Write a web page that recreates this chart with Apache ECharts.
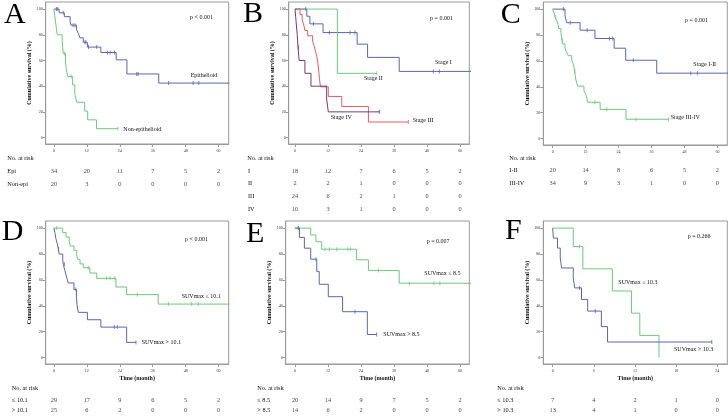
<!DOCTYPE html>
<html><head><meta charset="utf-8">
<script src="https://cdn.jsdelivr.net/npm/echarts@6/dist/echarts.min.js"></script>
<style>html,body{margin:0;padding:0;background:#fff}#c{width:728px;height:416px}</style>
</head><body><div id="c"></div>
<script>
// ---------- DATA ----------
const ticks60 = [0, 12, 24, 36, 48, 60];
const ticks24 = [0, 6, 12, 18, 24];
const yTicks = [0, 20, 40, 60, 80, 100];

// Panel A
const aEpiCurve = [[0,100],[1.9,97.1],[3.8,94.1],[5.9,90.6],[6.2,87.5],[8.2,84.3],[8.9,81],[9.5,77.6],[10.7,74.2],[12.2,70.4],[17.1,66.2],[22.7,60.5],[26.6,49.5],[38.2,42.4],[64,42.4]];
const aEpiCensor = [0.9, 1.4, 3.4, 7.0, 7.7, 11.3, 11.6, 12.6, 15.6, 19.5, 20.5, 22.1, 30.2, 30.7, 41.8, 50.7, 52.8];
const aNonCurve = [[0,100],[0.3,95],[0.6,90],[0.9,85],[1.2,80],[3.0,75],[3.2,70],[3.4,65.5],[4.2,59.5],[4.5,53.5],[5.0,47.5],[6.8,41],[7.6,34.3],[8.3,27.5],[11.2,20.6],[12.3,13.8],[15.5,6.9],[23.3,6.9]];
const aNonCensor = [3.8, 6.3, 23.3];
const aRiskRows = ['Epi', 'Non-epi'];
const aRiskEpi = [34, 20, 11, 7, 5, 2];
const aRiskNon = [20, 3, 0, 0, 0, 0];

// Panel B
const bStage1Curve = [[0,100],[4.3,94.4],[5.4,88.5],[10.2,81.7],[22.6,72.7],[26.4,62.4],[37.9,51.5],[64,51.5]];
const bStage1Censor = [3.9, 6.7, 12.5, 20.0, 21.8, 50.3, 52.5];
const bStage2Curve = [[0,100],[15.4,50],[29.7,50]];
const bStage2Censor = [29.7];
const bStage3Curve = [[0,100],[1.8,95.8],[2.6,91.7],[3.2,87.5],[3.6,83.3],[4.6,79.2],[6.4,75],[7.0,70.8],[7.5,66.7],[8.0,62.5],[8.3,58.3],[8.5,54.2],[8.7,50],[8.9,45.8],[9.1,41.7],[9.4,39.5],[12.1,32],[17.0,24.2],[26.7,12.1],[41.2,12.1]];
const bStage3Censor = [11.3, 41.2];
const bStage4Curve = [[0,100],[0.4,90],[0.8,80],[1.1,70],[1.5,60],[3.6,50],[5.8,40],[11.5,30],[12.1,20],[30.7,20]];
const bStage4Censor = [1.3, 30.7];
const bRiskRows = ['I', 'II', 'III', 'IV'];
const bRiskI = [18, 12, 7, 6, 5, 2];
const bRiskII = [2, 2, 1, 0, 0, 0];
const bRiskIII = [24, 6, 2, 1, 0, 0];
const bRiskIV = [10, 3, 1, 0, 0, 0];

// Panel C
const cEarlyCurve = [[0,100],[4.5,94.7],[5.1,89.5],[10.0,83.7],[15.4,77.3],[22.4,69.8],[26.6,60.5],[37.9,50.5],[64,50.5]];
const cEarlyCensor = [3.9, 6.4, 12.6, 20.7, 21.9, 29.4, 50.3, 52.7];
const cLateCurve = [[0,100],[0.5,97],[0.9,94],[1.5,91],[2.0,88],[2.2,85],[3.0,82],[3.2,79],[3.4,76],[3.6,73],[4.5,70],[5.0,67],[5.7,64],[6.9,61],[7.4,58],[7.8,55],[8.0,52],[8.2,49],[8.4,46],[8.8,43],[9.1,40.5],[11.4,37],[12.1,34],[12.5,31],[12.7,28],[17.3,22.5],[26.7,14.9],[42.2,14.9]];
const cLateCensor = [1.1, 3.5, 8.1, 15.4, 19.7, 30.4, 42.2];
const cRiskRows = ['I-II', 'III-IV'];
const cRiskEarly = [20, 14, 8, 6, 5, 2];
const cRiskLate = [34, 9, 3, 1, 0, 0];

// Panel D
const dLowCurve = [[0,100],[3.2,96.6],[4.4,93.1],[5.6,89.7],[5.9,86.2],[7.3,82.8],[8.3,79.3],[8.6,75.9],[9.5,72.4],[10.7,69.4],[13.1,65.3],[15.6,61.2],[22.6,54.5],[26.5,48.6],[38.0,41.3],[64,41.3]];
const dLowCensor = [1.0, 12.5, 19.2, 20.4, 22.2, 30.4, 41.7, 50.2, 52.6];
const dHighCurve = [[0,100],[0.4,96],[0.7,92],[1.2,88],[1.6,84],[1.9,80],[3.2,76],[3.4,72],[4.0,67.2],[4.6,62.3],[5.2,57.6],[7.3,52.5],[8.2,46.6],[8.4,40.8],[8.9,34.9],[12.2,29.2],[17.1,23.5],[26.5,11.7],[29.9,11.7]];
const dHighCensor = [1.7, 3.8, 8.0, 22.0, 23.1, 29.9];
const dRiskRows = ['\u2264 10.1', '> 10.1'];
const dRiskLow = [29, 17, 9, 6, 5, 2];
const dRiskHigh = [25, 6, 2, 0, 0, 0];

// Panel E
const eLowCurve = [[0,100],[5.7,94.7],[7.6,89.5],[9.7,83.7],[22.4,75.5],[26.7,67.2],[37.9,57.4],[64,57.4]];
const eLowCensor = [1.2, 10.9, 12.5, 15.2, 19.2, 20.2, 30.3, 41.6, 50.5, 52.7];
const eHighCurve = [[0,100],[1.6,92.8],[3.4,84.5],[5.7,76],[7.9,66.4],[8.8,56.6],[12.1,47],[17.3,35.4],[26.3,17.8],[29.7,17.8]];
const eHighCensor = [1.2, 7.6, 21.8, 29.7];
const eRiskRows = ['\u2264 8.5', '> 8.5'];
const eRiskLow = [20, 14, 9, 7, 5, 2];
const eRiskHigh = [14, 6, 2, 0, 0, 0];

// Panel F
const fLowCurve = [[0,100],[3.0,85.7],[4.4,68.6],[8.7,51.4],[11.5,34.3],[12.7,17.1],[15.5,0]];
const fLowCensor = [3.9];
const fHighCurve = [[0,100],[0.1,92.3],[0.7,84.6],[1.1,76.9],[1.3,69.2],[3.0,61.5],[3.2,53.8],[4.2,44.9],[5.1,35.9],[7.1,23.9],[8.0,12],[23.2,12]];
const fHighCensor = [3.9, 6.2, 23.2];
const fRiskRows = ['\u2264 10.3', '> 10.3'];
const fRiskLow = [7, 4, 2, 1, 0];
const fRiskHigh = [13, 4, 1, 0, 0];

// ---------- STYLE ----------
const BLUE = '#5a66ad', GREEN = '#6fc77e', RED = '#e65c68', PURPLE = '#6d3d7d';
const FONT = '"Liberation Serif","Times New Roman",serif';
const AX = '#9a9a9a';

function stepAt(curve, t) {
  let v = curve[0][1];
  for (const p of curve) { if (p[0] <= t + 1e-9) v = p[1]; else break; }
  return v;
}

const panels = [
  {left:45.7, right:228.7, top:2, bottom:144, xmin:-3, xmax:63.7, xticks:ticks60, yGap:12, time:false,
   curves:[{d:aEpiCurve,c:aEpiCensor,col:BLUE},{d:aNonCurve,c:aNonCensor,col:GREEN}],
   riskRows:aRiskRows, risk:[aRiskEpi,aRiskNon], riskTimes:ticks60, riskTop:171.7, riskStep:12.3, riskX:7.3, noRisk:[7.3,158.3],
   letter:['A',4,15], texts:[['p < 0.001',190,17.3],['Epithelioid',190.7,75],['Non-epithelioid',123.3,129.3]]},
  {left:288.7, right:469.3, top:2, bottom:144, xmin:-2.3, xmax:63.4, xticks:ticks60, yGap:13, time:false,
   curves:[{d:bStage1Curve,c:bStage1Censor,col:BLUE},{d:bStage2Curve,c:bStage2Censor,col:GREEN},{d:bStage3Curve,c:bStage3Censor,col:RED},{d:bStage4Curve,c:bStage4Censor,col:PURPLE}],
   riskRows:bRiskRows, risk:[bRiskI,bRiskII,bRiskIII,bRiskIV], riskTimes:ticks60, riskTop:171, riskStep:12.67, riskX:248, noRisk:[247.3,158.3],
   letter:['B',243,14], texts:[['p = 0.001',430,18.3],['Stage I',435,62.7],['Stage II',364,78.7],['Stage IV',330.7,117.7],['Stage III',412.7,120.7]]},
  {left:543.3, right:727.3, top:2, bottom:145, xmin:-3.4, xmax:63.6, xticks:ticks60, yGap:10.5, time:false,
   curves:[{d:cEarlyCurve,c:cEarlyCensor,col:BLUE},{d:cLateCurve,c:cLateCensor,col:GREEN}],
   riskRows:cRiskRows, risk:[cRiskEarly,cRiskLate], riskTimes:ticks60, riskTop:170.7, riskStep:12.3, riskX:509.3, noRisk:[509.3,158.3],
   letter:['C',500.7,15], texts:[['p = 0.001',685,20],['Stage I-II',693.3,64],['Stage III-IV',670.7,117.7]]},
  {left:45.7, right:228.7, top:221, bottom:364, xmin:-3, xmax:63.7, xticks:ticks60, yGap:12, time:true,
   curves:[{d:dLowCurve,c:dLowCensor,col:GREEN},{d:dHighCurve,c:dHighCensor,col:BLUE}],
   riskRows:dRiskRows, risk:[dRiskLow,dRiskHigh], riskTimes:ticks60, riskTop:400.7, riskStep:12, riskX:11.7, noRisk:[11.7,388.3],
   letter:['D',1.7,232.5], texts:[['p < 0.001',185,239.3],['SUVmax \u2264 10.1',181.7,296.7],['SUVmax > 10.1',141.7,342.3]]},
  {left:285.7, right:469.3, top:221, bottom:364, xmin:-3.4, xmax:63.4, xticks:ticks60, yGap:12, time:true,
   curves:[{d:eLowCurve,c:eLowCensor,col:GREEN},{d:eHighCurve,c:eHighCensor,col:BLUE}],
   riskRows:eRiskRows, risk:[eRiskLow,eRiskHigh], riskTimes:ticks60, riskTop:400.7, riskStep:12, riskX:257.3, noRisk:[257.3,388.3],
   letter:['E',246,234], texts:[['p = 0.007',426.7,241.7],['SUVmax \u2264 8.5',424.3,273.3],['SUVmax > 8.5',383.3,334.3]]},
  {left:543.3, right:727.3, top:221, bottom:364, xmin:-1.37, xmax:25.46, xticks:ticks24, yGap:10.5, time:true,
   curves:[{d:fLowCurve,c:fLowCensor,col:GREEN},{d:fHighCurve,c:fHighCensor,col:BLUE}],
   riskRows:fRiskRows, risk:[fRiskLow,fRiskHigh], riskTimes:ticks24, riskTop:400.7, riskStep:12, riskX:497.3, noRisk:[497.3,388.3],
   letter:['F',505,231], texts:[['p = 0.266',687.7,236],['SUVmax \u2264 10.3',618.3,282.3],['SUVmax > 10.3',674,349]]}
];

const grid = [], xAxis = [], yAxis = [], series = [], graphic = [];
function txt(s, x, y, size, extra) {
  graphic.push(Object.assign({type:'text', x:x, y:y, silent:true,
    style:{text:s, fill:'#111', font:'normal ' + size + 'px ' + FONT, align:'left', verticalAlign:'middle'}}, extra || {}));
}

panels.forEach(P => {
  const gi = grid.length;
  grid.push({left:P.left, top:P.top, width:P.right-P.left, height:P.bottom-P.top, show:true, borderColor:AX, borderWidth:1, backgroundColor:'transparent'});
  xAxis.push({type:'value', gridIndex:gi, min:P.xmin, max:P.xmax, splitLine:{show:false},
    axisLine:{show:true, onZero:false, lineStyle:{color:AX, width:1}},
    axisTick:{show:true, length:3, customValues:P.xticks, lineStyle:{color:AX}},
    axisLabel:{show:true, customValues:P.xticks, fontSize:4, margin:5, color:'#333', fontFamily:FONT},
    name:P.time ? 'Time (month)' : '', nameLocation:'middle', nameGap:11,
    nameTextStyle:{fontSize:6, fontWeight:'bold', fontFamily:FONT, color:'#111'}});
  yAxis.push({type:'value', gridIndex:gi, min:-5, max:105.5, splitLine:{show:false},
    axisLine:{show:true, onZero:false, lineStyle:{color:AX, width:1}},
    axisTick:{show:true, length:3, customValues:yTicks, lineStyle:{color:AX}},
    axisLabel:{show:true, customValues:yTicks, fontSize:4, margin:3, color:'#333', fontFamily:FONT},
    name:'Cumulative survival (%)', nameLocation:'middle', nameRotate:90, nameGap:P.yGap,
    nameTextStyle:{fontSize:6, fontWeight:'bold', fontFamily:FONT, color:'#111'}});
  P.curves.forEach(c => {
    series.push({type:'line', xAxisIndex:gi, yAxisIndex:gi, data:c.d, step:'end', symbol:'none', showSymbol:false,
      lineStyle:{color:c.col, width:1}, itemStyle:{color:c.col}, silent:true, animation:false, z:3});
    series.push({type:'scatter', xAxisIndex:gi, yAxisIndex:gi, data:c.c.map(t => [t, stepAt(c.d, t)]),
      symbol:'rect', symbolSize:[1, 4], itemStyle:{color:c.col}, silent:true, animation:false, z:4});
  });
  // risk table grid
  const ri = grid.length, n = P.riskRows.length;
  grid.push({left:P.left, top:P.riskTop - P.riskStep/2, width:P.right-P.left, height:n*P.riskStep, show:false});
  xAxis.push({type:'value', gridIndex:ri, min:P.xmin, max:P.xmax, show:false});
  yAxis.push({type:'category', gridIndex:ri, data:P.riskRows, inverse:true,
    axisLine:{show:false}, axisTick:{show:false}, splitLine:{show:false},
    axisLabel:{show:true, align:'left', margin:P.left - P.riskX, fontSize:6.3, fontFamily:FONT, color:'#111'}});
  const rd = [];
  P.risk.forEach((row, r) => row.forEach((v, j) => rd.push([P.riskTimes[j], r, v])));
  series.push({type:'scatter', xAxisIndex:ri, yAxisIndex:ri, data:rd, symbolSize:1,
    itemStyle:{color:'rgba(0,0,0,0)'}, silent:true, animation:false,
    label:{show:true, position:'inside', formatter:p => String(p.value[2]), fontSize:6.3, fontFamily:FONT, color:'#111'}});
  // texts
  txt('No. at risk', P.noRisk[0], P.noRisk[1], 6.3);
  graphic.push({type:'text', x:P.letter[1], y:P.letter[2], silent:true,
    style:{text:P.letter[0], fill:'#000', font:'normal 30px ' + FONT, align:'left', verticalAlign:'middle'}});
  P.texts.forEach(t => txt(t[0], t[1], t[2], 6));
});

const chart = echarts.init(document.getElementById('c'), null, {renderer:'canvas'});
chart.setOption({animation:false, backgroundColor:'#fff', grid, xAxis, yAxis, series, graphic});
</script>
</body></html>
